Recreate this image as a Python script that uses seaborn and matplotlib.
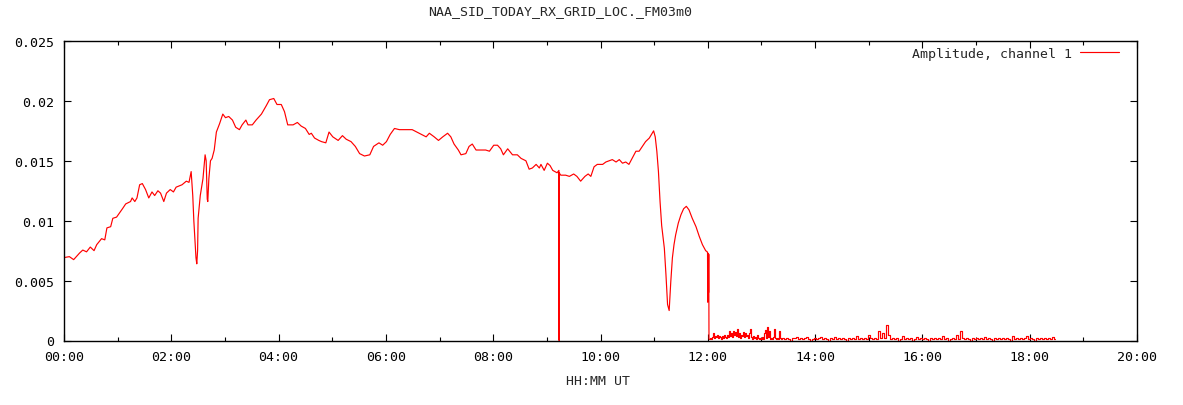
import numpy as np
import pandas as pd
import seaborn as sns
import matplotlib
matplotlib.use("Agg")
import matplotlib.pyplot as plt
from matplotlib.ticker import MultipleLocator, FixedLocator, FuncFormatter

# -------------------------
# Data
# -------------------------

# smooth part of the day, hours UT / amplitude
main_hours = [
    0.00, 0.10, 0.18, 0.29, 0.35, 0.42, 0.49, 0.56, 0.61, 0.70, 0.76, 0.80, 0.87,
    0.91, 0.98, 1.09, 1.15, 1.24, 1.27, 1.32, 1.36, 1.41, 1.46, 1.52, 1.58, 1.64,
    1.69, 1.75, 1.80, 1.86, 1.91, 1.98, 2.04, 2.09, 2.20, 2.28, 2.33, 2.37, 2.40,
    2.42, 2.44, 2.46, 2.475, 2.49, 2.50, 2.54, 2.59, 2.63, 2.65, 2.67, 2.68, 2.70,
    2.73, 2.76, 2.80, 2.84, 2.90, 2.96, 3.01, 3.07, 3.14, 3.20, 3.27, 3.32, 3.39,
    3.43, 3.51, 3.58, 3.68, 3.77, 3.83, 3.91, 3.97, 4.05, 4.11, 4.17, 4.27, 4.35,
    4.42, 4.50, 4.57, 4.61, 4.67, 4.75, 4.80, 4.88, 4.94, 5.01, 5.11, 5.19, 5.26,
    5.35, 5.43, 5.51, 5.60, 5.70, 5.77, 5.87, 5.94, 6.01, 6.08, 6.16, 6.25, 6.40,
    6.49, 6.62, 6.75, 6.81, 6.90, 6.98, 7.06, 7.15, 7.21, 7.27, 7.35, 7.40, 7.49,
    7.55, 7.61, 7.68, 7.77, 7.86, 7.93, 8.01, 8.08, 8.14, 8.19, 8.27, 8.36, 8.45,
    8.52, 8.61, 8.67, 8.73, 8.80, 8.86, 8.89, 8.95, 9.01, 9.06, 9.11, 9.19, 9.225,
    9.228, 9.228, 9.26, 9.35, 9.42, 9.50, 9.56, 9.63, 9.71, 9.77, 9.82, 9.88,
    9.94, 10.04, 10.10, 10.16, 10.22, 10.29, 10.35, 10.41, 10.47, 10.53, 10.60,
    10.66, 10.72, 10.78, 10.84, 10.91, 10.95, 10.99, 11.02, 11.05, 11.08, 11.11,
    11.14, 11.19, 11.22, 11.25, 11.28, 11.31, 11.34, 11.37, 11.40, 11.45, 11.50,
    11.55, 11.60, 11.65, 11.71, 11.78, 11.84, 11.90, 11.96, 11.99, 11.995, 11.998,
    12.002, 12.006, 12.010, 12.014, 12.018, 12.022, 12.025,
]
main_amp = [
    0.00692, 0.0070, 0.00675, 0.0073, 0.00755, 0.0074, 0.0078, 0.0075, 0.0080,
    0.0085, 0.0084, 0.0094, 0.0095, 0.0102, 0.0103, 0.0110, 0.0114, 0.0116,
    0.0119, 0.0116, 0.0119, 0.0130, 0.0131, 0.0126, 0.0119, 0.0124, 0.0121,
    0.0125, 0.0123, 0.0116, 0.0123, 0.0126, 0.0124, 0.0128, 0.0130, 0.0133,
    0.0132, 0.0141, 0.0121, 0.0100, 0.0085, 0.0069, 0.0064, 0.0075, 0.0102,
    0.0121, 0.0135, 0.0155, 0.0150, 0.0118, 0.0116, 0.0135, 0.0150, 0.0152,
    0.0159, 0.0174, 0.0181, 0.0189, 0.0186, 0.0187, 0.0184, 0.0178, 0.0176,
    0.0180, 0.0184, 0.0180, 0.0180, 0.0184, 0.0189, 0.0196, 0.0201, 0.0202,
    0.0197, 0.0197, 0.0191, 0.0180, 0.0180, 0.0182, 0.0179, 0.0177, 0.0172,
    0.0173, 0.0169, 0.0167, 0.0166, 0.0165, 0.0174, 0.0170, 0.0167, 0.0171,
    0.0168, 0.0166, 0.0162, 0.0156, 0.0154, 0.0155, 0.0162, 0.0165, 0.0163,
    0.0166, 0.0172, 0.0177, 0.0176, 0.0176, 0.0176, 0.0173, 0.0170, 0.0173,
    0.0170, 0.0167, 0.0170, 0.0173, 0.0170, 0.0164, 0.0159, 0.0155, 0.0156,
    0.0162, 0.0164, 0.0159, 0.0159, 0.0159, 0.0158, 0.0163, 0.0163, 0.0160,
    0.0155, 0.0160, 0.0155, 0.0155, 0.0152, 0.0150, 0.0143, 0.0144, 0.0147,
    0.0144, 0.0147, 0.0142, 0.0148, 0.0146, 0.0142, 0.0140, 0.0142, 0.0,
    0.0140, 0.0138, 0.0138, 0.0137, 0.0139, 0.0137, 0.0133, 0.0137, 0.0139,
    0.0137, 0.0145, 0.0147, 0.0147, 0.0149, 0.0150, 0.0151, 0.0149, 0.0151,
    0.0148, 0.0149, 0.0147, 0.0153, 0.0158, 0.0158, 0.0162, 0.0166, 0.0169,
    0.0172, 0.0175, 0.0170, 0.0158, 0.0141, 0.0116, 0.0096, 0.0077, 0.0055,
    0.0030, 0.0025, 0.0049, 0.0069, 0.0080, 0.0088, 0.0098, 0.0105, 0.0110,
    0.0112, 0.0109, 0.0102, 0.0095, 0.0087, 0.0080, 0.0075, 0.0074, 0.0073,
    0.0032, 0.0073, 0.0035, 0.0072, 0.0040, 0.0072, 0.0002, 0.0001,
]

# noisy tail after the signal loss, sampled about once a minute (units of 1e-4)
dense_start, dense_step = 12.03, 0.01863
dense_e4 = [
    1, 2, 1, 3, 6, 2, 4, 3, 5, 2, 4, 3, 1, 4, 2, 5, 3, 2, 5, 3, 8, 4, 6, 3, 8,
    5, 7, 4, 10, 3, 6, 2, 5, 4, 7, 3, 6, 4, 5, 2, 6, 10, 3, 1, 4, 2, 3, 1, 5, 2,
    1, 2, 1, 3, 1, 6, 9, 2, 11, 3, 8, 1, 2, 1, 3, 10, 2, 1, 2, 1, 8, 2, 1,
]
sparse_start, sparse_step = 13.41, 0.03726
sparse_e4 = [
    2, 1, 2, 1, 0, 2, 2, 3, 1, 2,
    1, 2, 3, 1, 0, 1, 2, 1, 2, 3,
    1, 2, 1, 0, 2, 1, 3, 1, 2, 1,
    2, 1, 0, 2, 1, 2, 1, 4, 1, 2,
    1, 2, 1, 5, 2, 1, 2, 1, 8, 2,
    6, 2, 13, 5, 1, 2, 1, 2, 0, 1,
    4, 1, 2, 1, 2, 0, 1, 3, 1, 2,
    1, 2, 1, 0, 2, 1, 2, 1, 2, 1,
    4, 1, 2, 0, 1, 2, 1, 5, 1, 8,
    2, 1, 2, 1, 0, 2, 1, 2, 1, 2,
    1, 3, 1, 2, 1, 0, 2, 1, 2, 1,
    2, 1, 2, 1, 0, 4, 1, 2, 1, 2,
    1, 2, 4, 1, 2, 1, 0, 2, 1, 2,
    1, 2, 1, 2, 1, 3, 1,
]

title_text = "NAA_SID_TODAY_RX_GRID_LOC._FM03m0"
series_label = "Amplitude, channel 1"
x_label = "HH:MM UT"
y_ticks = [0, 0.005, 0.01, 0.015, 0.02, 0.025]

# -------------------------
# Build frames
# -------------------------
main_df = pd.DataFrame({"hours": main_hours, "amp": main_amp})

dense_hours = dense_start + dense_step * np.arange(len(dense_e4))
sparse_hours = sparse_start + sparse_step * np.arange(len(sparse_e4))
tail_df = pd.DataFrame({
    "hours": np.concatenate([[main_hours[-1]], dense_hours, sparse_hours]),
    "amp": np.concatenate([[main_amp[-1]], np.array(dense_e4) * 1e-4,
                           np.array(sparse_e4) * 1e-4]),
})

# -------------------------
# Plot
# -------------------------
sns.set_theme(style="ticks")
plt.rcParams["font.family"] = ["DejaVu Sans Mono", "DejaVu Sans"]

fig = plt.figure(figsize=(11.83, 4.06), dpi=100)
ax = fig.add_axes([64 / 1183, 64.5 / 406, 1073 / 1183, 299.5 / 406])

sns.lineplot(data=main_df, x="hours", y="amp", ax=ax, color="red", lw=0.85,
             estimator=None, sort=False, label=series_label)
# the noisy tail is drawn as steps so spikes come out as vertical bars
sns.lineplot(data=tail_df, x="hours", y="amp", ax=ax, color="red", lw=0.85,
             estimator=None, sort=False, drawstyle="steps-mid", legend=False)

ax.set_xlim(0, 20)
ax.set_ylim(0, 0.025)
ax.xaxis.set_major_locator(MultipleLocator(2))
ax.xaxis.set_minor_locator(MultipleLocator(1))
ax.xaxis.set_major_formatter(FuncFormatter(lambda v, p: "%02d:00" % int(round(v))))
ax.yaxis.set_major_locator(FixedLocator(y_ticks))
ax.yaxis.set_major_formatter(FuncFormatter(lambda v, p: "%g" % v))

ax.tick_params(which="both", direction="in", top=True, right=True,
               labelsize=9.5, colors="black", width=0.8)
ax.tick_params(which="major", length=5, pad=7)
ax.tick_params(which="minor", length=3)
for s in ax.spines.values():
    s.set_color("black")
    s.set_linewidth(1.0)

ax.set_xlabel("")
ax.set_ylabel("")
fig.text(598 / 1183, 1 - 382 / 406, x_label, ha="center", va="center", fontsize=9.5)
fig.text(560 / 1183, 1 - 12 / 406, title_text, ha="center", va="center", fontsize=9.5)

leg = ax.legend(loc="upper right", frameon=False, markerfirst=False,
                handlelength=3.0, fontsize=9.5, borderaxespad=0.2,
                handletextpad=0.6,
                bbox_to_anchor=(1 - 10 / 1073, 1 + 2 / 299.5))

fig.savefig("out.png", dpi=100)
